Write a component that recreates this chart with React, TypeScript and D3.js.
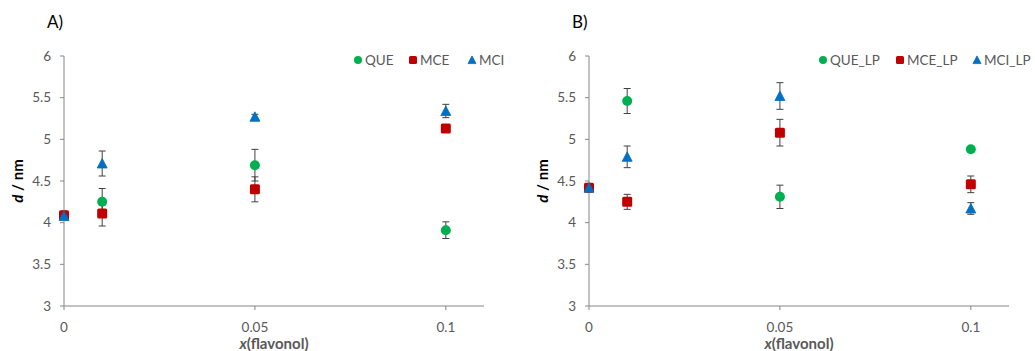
import * as d3 from "d3";

const X_VALUES = [0, 0.01, 0.05, 0.1];
const X_TICKS = [0, 0.05, 0.1];
const Y_TICKS = [3, 3.5, 4, 4.5, 5, 5.5, 6];

// panel A
const QUE = [4.09, 4.25, 4.69, 3.91];
const QUE_ERR = [0.03, 0.16, 0.19, 0.1];
const MCE = [4.09, 4.11, 4.4, 5.13];
const MCE_ERR = [0.03, 0.15, 0.15, 0.04];
const MCI = [4.08, 4.71, 5.27, 5.34];
const MCI_ERR = [0.03, 0.15, 0.03, 0.08];

// panel B
const QUE_LP = [4.42, 5.46, 4.31, 4.88];
const QUE_LP_ERR = [0.03, 0.15, 0.14, 0.03];
const MCE_LP = [4.42, 4.25, 5.08, 4.46];
const MCE_LP_ERR = [0.03, 0.09, 0.16, 0.1];
const MCI_LP = [4.42, 4.79, 5.52, 4.17];
const MCI_LP_ERR = [0.03, 0.13, 0.16, 0.07];

const GREEN = "#00B050";
const RED = "#C00000";
const BLUE = "#0070C0";
const TEXT = "#595959";
const AXIS = "#868686";
const FONT = "Lato, 'Noto Sans', sans-serif";

type Series = { name: string; values: number[]; err: number[]; color: string; shape: "circle" | "square" | "triangle" };

const PANELS: { label: string; left: number; legendX: number[]; series: Series[] }[] = [
  {
    label: "A)", left: 64, legendX: [358, 413, 472],
    series: [
      { name: "QUE", values: QUE, err: QUE_ERR, color: GREEN, shape: "circle" },
      { name: "MCE", values: MCE, err: MCE_ERR, color: RED, shape: "square" },
      { name: "MCI", values: MCI, err: MCI_ERR, color: BLUE, shape: "triangle" },
    ],
  },
  {
    label: "B)", left: 589, legendX: [823, 900, 977],
    series: [
      { name: "QUE_LP", values: QUE_LP, err: QUE_LP_ERR, color: GREEN, shape: "circle" },
      { name: "MCE_LP", values: MCE_LP, err: MCE_LP_ERR, color: RED, shape: "square" },
      { name: "MCI_LP", values: MCI_LP, err: MCI_LP_ERR, color: BLUE, shape: "triangle" },
    ],
  },
];

function Marker({ shape, x, y, color, s }: { shape: string; x: number; y: number; color: string; s: number }) {
  if (shape === "circle") return <circle cx={x} cy={y} r={s / 2} fill={color} />;
  if (shape === "square") return <rect x={x - s / 2} y={y - s / 2} width={s} height={s} rx={1.5} fill={color} />;
  const h = s * 0.9;
  return <path d={`M${x},${y - h / 2 - 0.5} L${x + s / 2},${y + h / 2} L${x - s / 2},${y + h / 2} Z`} fill={color} strokeLinejoin="round" stroke={color} strokeWidth={0.8} />;
}

function Panel({ p }: { p: (typeof PANELS)[0] }) {
  const top = 56, bottom = 306;
  const xS = d3.scaleLinear().domain([0, 0.11]).range([p.left, p.left + 420]);
  const yS = d3.scaleLinear().domain([3, 6]).range([bottom, top]);
  const cx = (xS.range()[0] + xS.range()[1]) / 2;
  return (
    <g fontFamily={FONT}>
      <text x={p.left - 17} y={28} fontSize={17} fill="#000">{p.label}</text>
      {/* axes */}
      <line x1={p.left} x2={p.left} y1={top} y2={bottom} stroke={AXIS} />
      <line x1={p.left} x2={xS(0.11)} y1={bottom} y2={bottom} stroke={AXIS} />
      {Y_TICKS.map(v => (
        <g key={v}>
          <line x1={p.left - 4} x2={p.left} y1={yS(v)} y2={yS(v)} stroke={AXIS} />
          <text x={p.left - 13} y={yS(v)} dy="0.35em" textAnchor="end" fontSize={13.5} fill={TEXT}>{String(v)}</text>
        </g>
      ))}
      {X_TICKS.map(v => (
        <g key={v}>
          <line x1={xS(v)} x2={xS(v)} y1={bottom} y2={bottom + 4} stroke={AXIS} />
          <text x={xS(v)} y={332} textAnchor="middle" fontSize={13.5} fill={TEXT}>{String(v)}</text>
        </g>
      ))}
      <text x={cx} y={349} textAnchor="middle" fontSize={15} fontWeight="bold" fill={TEXT}>
        <tspan fontStyle="italic">x</tspan>(flavonol)
      </text>
      <text transform={`translate(${p.left - 41},${yS(4.5)}) rotate(-90)`} textAnchor="middle" fontSize={15} fontWeight="bold" fill="#000">
        <tspan fontStyle="italic">d</tspan> / nm
      </text>
      {/* error bars */}
      {p.series.map(s => (
        <g key={s.name + "e"} stroke="#404040" strokeWidth={1}>
          {s.values.map((v, i) => (
            <g key={i}>
              <line x1={xS(X_VALUES[i])} x2={xS(X_VALUES[i])} y1={yS(v - s.err[i])} y2={yS(v + s.err[i])} />
              <line x1={xS(X_VALUES[i]) - 3.5} x2={xS(X_VALUES[i]) + 3.5} y1={yS(v - s.err[i])} y2={yS(v - s.err[i])} />
              <line x1={xS(X_VALUES[i]) - 3.5} x2={xS(X_VALUES[i]) + 3.5} y1={yS(v + s.err[i])} y2={yS(v + s.err[i])} />
            </g>
          ))}
        </g>
      ))}
      {/* markers */}
      {p.series.map(s => (
        <g key={s.name}>
          {s.values.map((v, i) => (
            <Marker key={i} shape={s.shape} x={xS(X_VALUES[i])} y={yS(v)} color={s.color} s={10} />
          ))}
        </g>
      ))}
      {/* legend */}
      {p.series.map((s, i) => (
        <g key={s.name + "l"}>
          <Marker shape={s.shape} x={p.legendX[i]} y={60} color={s.color} s={8} />
          <text x={p.legendX[i] + 7} y={60} dy="0.35em" fontSize={13.5} fill={TEXT}>{s.name}</text>
        </g>
      ))}
    </g>
  );
}

export default function App() {
  return (
    <svg width={1035} height={351} style={{ position: "absolute", left: 0, top: 0, background: "white" }}>
      <rect width={1035} height={351} fill="white" />
      {PANELS.map(p => <Panel key={p.label} p={p} />)}
    </svg>
  );
}
